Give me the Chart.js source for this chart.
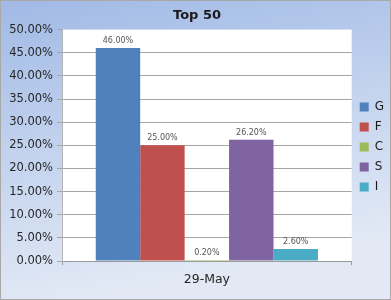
<!DOCTYPE html>
<html>
<head>
<meta charset="utf-8">
<script src="https://cdn.jsdelivr.net/npm/chart.js@4.4.0/dist/chart.umd.min.js"></script>
<style>
  html, body { margin: 0; padding: 0; background: #fff; }
  #wrap { position: relative; width: 391px; height: 300px; }
</style>
</head>
<body>
<div id="wrap"><canvas id="chart"></canvas></div>
<script>
// data
const categories = ['29-May'];
const seriesNames = ['G', 'F', 'C', 'S', 'I'];
const seriesValues = [46.0, 25.0, 0.2, 26.2, 2.6];
const seriesColors = ['#4F81BD', '#C0504D', '#9BBB59', '#8064A2', '#4BACC6'];

// blue gradient background, grey frame, white plot area
const bgPlugin = {
  id: 'bg',
  beforeDraw(chart) {
    const { ctx, width, height, chartArea } = chart;
    ctx.save();
    const g = ctx.createLinearGradient(0, 0, width * 0.15, height);
    g.addColorStop(0, '#a0b9e5');
    g.addColorStop(0.5, '#c2d2ee');
    g.addColorStop(1, '#e2e9f5');
    ctx.fillStyle = g;
    ctx.fillRect(0, 0, width, height);
    ctx.strokeStyle = '#a8a8a8';
    ctx.lineWidth = 1;
    ctx.strokeRect(0.5, 0.5, width - 1, height - 1);
    ctx.fillStyle = '#ffffff';
    ctx.fillRect(chartArea.left, chartArea.top, chartArea.right - chartArea.left, chartArea.bottom - chartArea.top);
    ctx.restore();
  }
};

// value labels above each bar
const labelPlugin = {
  id: 'valueLabels',
  afterDatasetsDraw(chart) {
    const { ctx } = chart;
    ctx.save();
    ctx.font = '8px "DejaVu Sans"';
    ctx.fillStyle = '#555555';
    ctx.textAlign = 'center';
    ctx.textBaseline = 'bottom';
    chart.data.datasets.forEach((ds, i) => {
      chart.getDatasetMeta(i).data.forEach((bar, j) => {
        ctx.fillText(ds.data[j].toFixed(2) + '%', bar.x, bar.y - 3);
      });
    });
    ctx.restore();
  }
};

new Chart(document.getElementById('chart'), {
  type: 'bar',
  data: {
    labels: categories,
    datasets: seriesNames.map((name, i) => ({
      label: name,
      data: [seriesValues[i]],
      backgroundColor: seriesColors[i],
      borderWidth: 0,
      barPercentage: 1,
      categoryPercentage: 0.767
    }))
  },
  options: {
    responsive: true,
    maintainAspectRatio: false,
    animation: false,
    devicePixelRatio: 1,
    layout: { padding: { left: 0, right: -3, top: 0, bottom: 6 } },
    plugins: {
      title: {
        display: true,
        text: 'Top 50',
        color: '#1a1a1a',
        font: { family: '"DejaVu Sans"', size: 13, weight: 'bold' },
        padding: { top: 8, bottom: 6 }
      },
      legend: {
        position: 'right',
        labels: {
          boxWidth: 9,
          boxHeight: 9,
          padding: 8,
          color: '#1a1a1a',
          font: { family: '"DejaVu Sans"', size: 12 }
        }
      },
      tooltip: { enabled: false }
    },
    scales: {
      x: {
        grid: { offset: true, drawOnChartArea: false, tickLength: 4, color: '#9a9a9a' },
        border: { color: '#9a9a9a' },
        ticks: { color: '#262626', font: { family: '"DejaVu Sans"', size: 12.5 }, padding: 7 },
        afterFit(scale) { scale.height = 33; }
      },
      y: {
        min: 0,
        max: 50,
        ticks: {
          stepSize: 5,
          color: '#262626',
          font: { family: '"DejaVu Sans"', size: 11.5 },
          padding: 4,
          callback: v => v.toFixed(2) + '%'
        },
        grid: {
          color: ctx => (ctx.tick && ctx.tick.value === 50) ? 'rgba(0,0,0,0)' : '#a6a6a6',
          tickColor: '#a6a6a6',
          tickLength: 5
        },
        border: { color: '#b4b4b4' },
        afterFit(scale) { scale.width = 62; }
      }
    }
  },
  plugins: [bgPlugin, labelPlugin]
});
</script>
</body>
</html>
